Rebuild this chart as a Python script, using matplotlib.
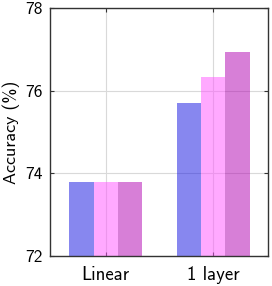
import numpy as np
import matplotlib
matplotlib.use('Agg')
import matplotlib.pyplot as plt

plt.rcParams.update({
    'font.family': ['cmss10', 'DejaVu Sans'],
    'font.size': 12,
    'axes.unicode_minus': False,
    'axes.formatter.use_mathtext': False,
})

categories = ['Linear', '1 layer']
series_a = [73.78, 75.69]
series_b = [73.78, 76.34]
series_c = [73.78, 76.94]
yticks = [72, 74, 76, 78]

colors = ['#1111e1', '#ff55ff', '#b101b1']
alpha = 0.5
width = 0.227

fig = plt.figure(figsize=(2.72, 2.86), dpi=100)
ax = fig.add_axes([50 / 272, 1 - 256 / 286, 218 / 272, 248 / 286])

x = np.arange(len(categories))
for i, (vals, c) in enumerate(zip([series_a, series_b, series_c], colors)):
    ax.bar(x + (i - 1) * width, np.array(vals) - 72, width, bottom=72,
           color=c, alpha=alpha, linewidth=0, zorder=2)

ax.set_xlim(-0.52, 1.51)
ax.set_ylim(72, 78)
ax.set_yticks(yticks)
ax.set_xticks(x)
ax.set_xticklabels(categories)
ax.set_ylabel('Accuracy (%)', fontsize=13, labelpad=4)
ax.grid(True, color='#d9d9d9', linewidth=0.8, zorder=1)
ax.set_axisbelow(True)
ax.tick_params(direction='in', top=True, right=True, length=3, width=0.8,
               color='#333333', labelsize=12.5, pad=5)
ax.tick_params(axis='x', labelsize=13.5, pad=7)
for s in ax.spines.values():
    s.set_color('#333333')
    s.set_linewidth(1.0)

fig.savefig('out.png', dpi=100)
